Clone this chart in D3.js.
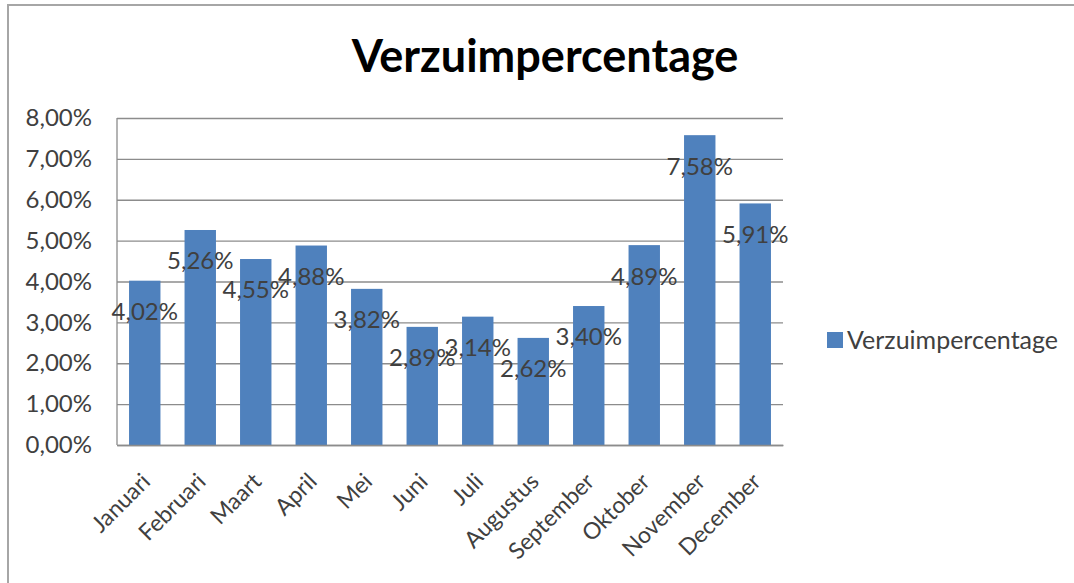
<!DOCTYPE html>
<html>
<head>
<meta charset="utf-8">
<script src="https://cdn.jsdelivr.net/npm/d3@7"></script>
<style>
	body { margin: 0; background: #fff; }
	svg { display: block; }
</style>
</head>
<body>
<div id="chart"></div>
<script>
// data
const months = ["Januari", "Februari", "Maart", "April", "Mei", "Juni", "Juli",
	"Augustus", "September", "Oktober", "November", "December"];
const verzuim = [4.02, 5.26, 4.55, 4.88, 3.82, 2.89, 3.14, 2.62, 3.40, 4.89, 7.58, 5.91];
const yTicks = [0, 1, 2, 3, 4, 5, 6, 7, 8];
const seriesName = "Verzuimpercentage";

const width = 1074, height = 583;
const plot = { left: 117, right: 783, top: 118, bottom: 445 };
const barColor = "#4F81BD";
const textColor = "#404040";
const font = "Lato, 'Open Sans', sans-serif";

const fmt = v => v.toFixed(2).replace(".", ",") + "%";

const svg = d3.select("#chart").append("svg")
	.attr("width", width).attr("height", height);

// outer frame (only left and top edges are visible in the picture)
svg.append("path")
	.attr("d", "M8," + height + "V5H" + width)
	.attr("fill", "none").attr("stroke", "#a6a6a6").attr("stroke-width", 2);

const x = d3.scaleBand().domain(months)
	.range([plot.left, plot.right]).paddingInner(0.434).paddingOuter(0.217);
const y = d3.scaleLinear().domain([0, 8]).range([plot.bottom, plot.top]);

// gridlines + y labels
const yAxis = svg.append("g")
	.attr("transform", "translate(" + plot.left + ",0)")
	.call(d3.axisLeft(y).tickValues(yTicks).tickSize(-(plot.right - plot.left))
		.tickPadding(25).tickFormat(fmt));
yAxis.select(".domain").remove();
yAxis.selectAll(".tick line").attr("stroke", "#8c8c8c").attr("stroke-width", 1.3);
yAxis.selectAll(".tick text")
	.attr("fill", textColor).style("font-family", font).style("font-size", "24px");

// left axis line
svg.append("line")
	.attr("x1", plot.left).attr("x2", plot.left)
	.attr("y1", plot.top).attr("y2", plot.bottom)
	.attr("stroke", "#8c8c8c").attr("stroke-width", 1.3);

// bars
svg.append("g").selectAll("rect")
	.data(verzuim)
	.join("rect")
	.attr("x", (d, i) => x(months[i]))
	.attr("y", d => y(d))
	.attr("width", x.bandwidth())
	.attr("height", d => y(0) - y(d))
	.attr("fill", barColor);

// x axis
const xAxis = svg.append("g")
	.attr("transform", "translate(0," + plot.bottom + ")")
	.call(d3.axisBottom(x).tickSize(0).tickPadding(0));
xAxis.select(".domain").attr("stroke", "#8c8c8c").attr("stroke-width", 1.3);
xAxis.selectAll(".tick text")
	.attr("fill", textColor).style("font-family", font).style("font-size", "23px")
	.attr("text-anchor", "end")
	.attr("dy", 0)
	.attr("transform", "translate(7,38) rotate(-45)");

// data labels
svg.append("g").selectAll("text")
	.data(verzuim)
	.join("text")
	.attr("x", (d, i) => x(months[i]) + x.bandwidth() / 2)
	.attr("y", d => y(d) + 31)
	.attr("dy", "0.35em")
	.attr("text-anchor", "middle")
	.attr("fill", textColor)
	.style("font-family", font).style("font-size", "24px")
	.text(fmt);

// title
svg.append("text")
	.attr("x", 545).attr("y", 72)
	.attr("text-anchor", "middle")
	.attr("fill", "#000")
	.style("font-family", font).style("font-weight", "bold").style("font-size", "45px")
	.text(seriesName);

// legend
const legend = svg.append("g").attr("transform", "translate(827,332)");
legend.append("rect").attr("width", 16).attr("height", 16).attr("fill", barColor);
legend.append("text")
	.attr("x", 20).attr("y", 8).attr("dy", "0.35em")
	.attr("fill", textColor)
	.style("font-family", font).style("font-size", "25px")
	.text(seriesName);
</script>
</body>
</html>
